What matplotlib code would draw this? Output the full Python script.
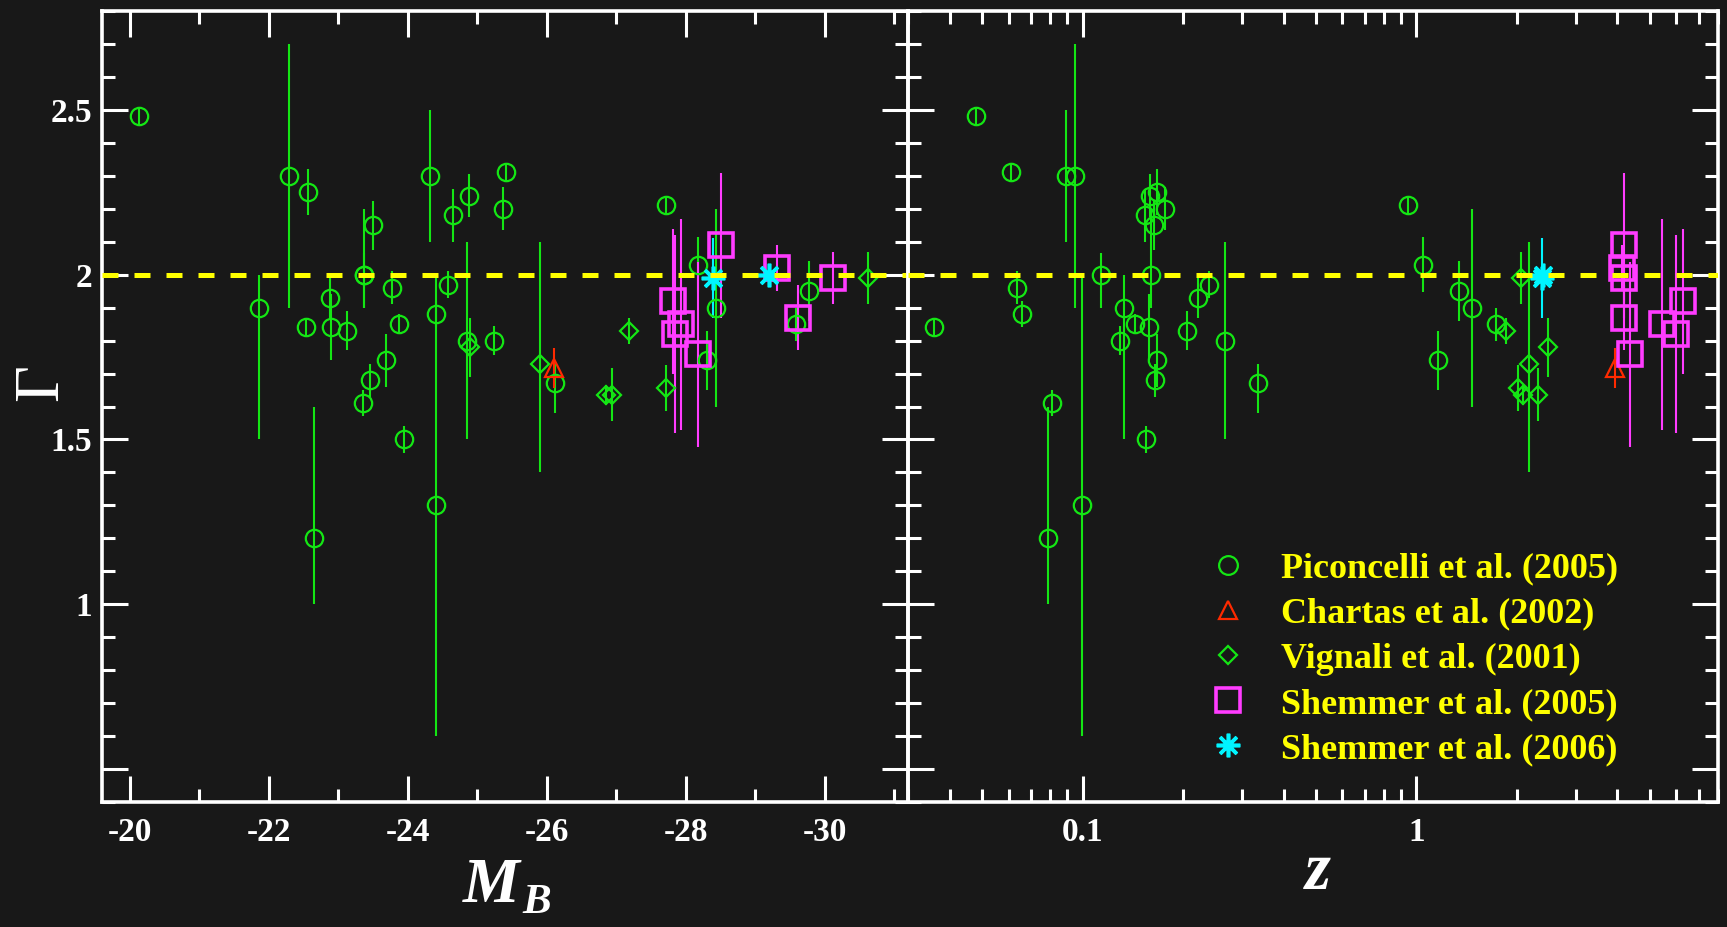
import matplotlib
matplotlib.use('Agg')
import matplotlib.pyplot as plt
from matplotlib.lines import Line2D
from matplotlib.ticker import FixedLocator, MultipleLocator, LogLocator, NullFormatter

plt.rcParams['font.family'] = ['Liberation Serif', 'DejaVu Serif']
plt.rcParams['font.weight'] = 'bold'
plt.rcParams['mathtext.fontset'] = 'custom'
plt.rcParams['mathtext.it'] = 'Liberation Serif:italic:bold'
plt.rcParams['mathtext.rm'] = 'Liberation Serif:bold'

# Piconcelli et al. (2005)
pic_mb = [-20.13, -22.29, -22.57, -21.86, -22.54, -22.88, -22.89, -23.12, -23.37, -23.37,
          -23.50, -23.78, -23.88, -23.69, -23.46, -23.35, -23.94, -22.65, -24.32, -24.65,
          -24.88, -25.42, -25.37, -24.58, -24.40, -24.41, -24.85, -25.24, -26.12, -27.72,
          -28.18, -28.43, -28.30, -29.78, -29.59]
pic_z = [0.0478, 0.0949, 0.167, 0.133, 0.036, 0.221, 0.158, 0.206, 0.1136, 0.1606,
         0.164, 0.0638, 0.1437, 0.167, 0.165, 0.081, 0.155, 0.079, 0.0895, 0.154,
         0.1596, 0.0609, 0.177, 0.239, 0.066, 0.0998, 0.267, 0.129, 0.3345, 0.943,
         1.047, 1.47, 1.16, 1.34, 1.728]
pic_gam = [2.48, 2.30, 2.25, 1.90, 1.84, 1.93, 1.84, 1.83, 2.00, 2.00,
           2.15, 1.96, 1.85, 1.74, 1.68, 1.61, 1.50, 1.20, 2.30, 2.18,
           2.24, 2.31, 2.20, 1.97, 1.88, 1.30, 1.80, 1.80, 1.67, 2.21,
           2.03, 1.90, 1.74, 1.95, 1.85]
pic_elo = [0.03, 0.40, 0.07, 0.40, 0.03, 0.06, 0.10, 0.06, 0.10, 0.10,
           0.075, 0.05, 0.03, 0.08, 0.05, 0.04, 0.04, 0.20, 0.20, 0.08,
           0.065, 0.03, 0.065, 0.04, 0.04, 0.70, 0.30, 0.045, 0.09, 0.03,
           0.083, 0.30, 0.09, 0.09, 0.05]
pic_ehi = [0.03, 0.40, 0.07, 0.10, 0.03, 0.06, 0.10, 0.06, 0.066, 0.20,
           0.075, 0.05, 0.03, 0.08, 0.05, 0.04, 0.04, 0.40, 0.20, 0.08,
           0.065, 0.03, 0.065, 0.04, 0.04, 0.70, 0.30, 0.045, 0.06, 0.03,
           0.083, 0.30, 0.09, 0.09, 0.05]

# Chartas et al. (2002)
cha_mb = [-26.10]
cha_z = [3.93]
cha_gam = [1.717]
cha_err = [0.06]

# Vignali et al. (2001)
vig_mb = [-24.90, -25.91, -26.86, -26.94, -27.72, -27.18, -30.63]
vig_z = [2.47, 2.18, 2.08, 2.31, 2.01, 1.857, 2.05]
vig_gam = [1.78, 1.73, 1.636, 1.636, 1.657, 1.83, 1.99]
vig_elo = [0.09, 0.33, 0.03, 0.08, 0.07, 0.04, 0.08]
vig_ehi = [0.09, 0.37, 0.03, 0.08, 0.07, 0.04, 0.08]

# Shemmer et al. (2005)
s05_mb = [-28.51, -29.32, -30.12, -29.61, -27.82, -27.94, -27.85, -28.18]
s05_z = [4.19, 4.12, 4.19, 4.19, 6.3, 5.43, 6.0, 4.35]
s05_gam = [2.089, 2.02, 1.99, 1.87, 1.92, 1.85, 1.82, 1.758]
s05_err = [0.22, 0.07, 0.08, 0.10, 0.22, 0.32, 0.30, 0.28]

# Shemmer et al. (2006)
s06_mb = [-28.40, -29.20]
s06_z = [2.38, 2.40]
s06_gam = [1.99, 2.00]
s06_err = [0.12, 0.03]

labels = ['Piconcelli et al. (2005)', 'Chartas et al. (2002)', 'Vignali et al. (2001)',
          'Shemmer et al. (2005)', 'Shemmer et al. (2006)']

mb_ticks = [-20, -22, -24, -26, -28, -30]
z_ticks = [0.1, 1]
gam_ticks = [0.5, 1, 1.5, 2, 2.5]
gam_ticklabels = ['', '1', '1.5', '2', '2.5']

green = '#14e614'
red = '#ff2a00'
magenta = '#ff3cff'
cyan = '#00f5ff'
yellow = '#ffff00'
bg = '#181818'

star = (8, 2, 0)
styles = [
    dict(marker='o', ms=12.5, mfc='none', mec=green, mew=1.6, ecolor=green),
    dict(marker='^', ms=13, mfc='none', mec=red, mew=1.6, ecolor=red),
    dict(marker='D', ms=9, mfc='none', mec=green, mew=1.6, ecolor=green),
    dict(marker='s', ms=17, mfc='none', mec=magenta, mew=2.6, ecolor=magenta),
    dict(marker=star, ms=17, mfc='none', mec=cyan, mew=2.6, ecolor=cyan),
]

fig = plt.figure(figsize=(17.27, 9.27), dpi=100, facecolor=bg)
ax1 = fig.add_axes([102 / 1727, 1 - 802 / 927, 806 / 1727, 791 / 927])
ax2 = fig.add_axes([908 / 1727, 1 - 802 / 927, 810 / 1727, 791 / 927])


def frame(ax):
    ax.set_facecolor('none')
    for s in ax.spines.values():
        s.set_color('white')
        s.set_linewidth(2.6)
    ax.tick_params(which='both', direction='in', top=True, right=True,
                   color='white', width=2.2, labelcolor='white', labelsize=24)
    ax.tick_params(which='major', length=19, pad=7)
    ax.tick_params(axis='x', which='major', pad=11)
    ax.tick_params(which='minor', length=9.5)
    ax.set_ylim(0.4, 2.8)
    ax.yaxis.set_major_locator(FixedLocator(gam_ticks))
    ax.yaxis.set_minor_locator(MultipleLocator(0.1))
    ax.axhline(2.0, color=yellow, lw=3.6, dashes=(3.2, 3.2), zorder=6)


def draw(ax, xs):
    sets = [(pic_gam, [pic_elo, pic_ehi]),
            (cha_gam, cha_err),
            (vig_gam, [vig_elo, vig_ehi]),
            (s05_gam, s05_err),
            (s06_gam, s06_err)]
    for x, (g, e), st in zip(xs, sets, styles):
        ax.errorbar(x, g, yerr=e, ls='none', elinewidth=1.5, capsize=0, zorder=3, **st)


frame(ax1)
draw(ax1, [pic_mb, cha_mb, vig_mb, s05_mb, s06_mb])
ax1.set_xlim(-19.6, -31.2)
ax1.set_xticks(mb_ticks, labels=[str(t) for t in mb_ticks])
ax1.xaxis.set_minor_locator(MultipleLocator(1))
ax1.set_yticklabels(gam_ticklabels)
ax1.text(-0.074, 0.53, 'Γ', color='white', fontsize=46, fontweight='normal', rotation=90,
         ha='center', va='center', transform=ax1.transAxes)
# M with a dropped subscript B
ax1.text(0.483, -0.071, 'M', color='white', fontsize=46, fontstyle='italic',
         ha='center', va='top', transform=ax1.transAxes)
ax1.text(0.522, -0.104, 'B', color='white', fontsize=31, fontstyle='italic',
         ha='left', va='top', transform=ax1.transAxes)

frame(ax2)
draw(ax2, [pic_z, cha_z, vig_z, s05_z, s06_z])
ax2.set_xscale('log')
ax2.set_xlim(0.03, 8)
ax2.set_xticks(z_ticks, labels=['0.1', '1'])
ax2.xaxis.set_minor_locator(LogLocator(base=10, subs=range(2, 10)))
ax2.xaxis.set_minor_formatter(NullFormatter())
ax2.tick_params(labelleft=False)
ax2.set_xlabel(r'$z$', color='white', fontsize=48)
ax2.xaxis.set_label_coords(0.506, -0.050)

handles = [Line2D([], [], ls='none', **{k: v for k, v in st.items() if k != 'ecolor'})
           for st in styles]
handles[0].set_markersize(13.5)
handles[2].set_markersize(9.5)
leg = ax2.legend(handles, labels, loc='upper left', bbox_to_anchor=(1210 / 1727, 1 - 552 / 927),
                 bbox_transform=fig.transFigure, frameon=False, prop={'size': 26, 'weight': 'bold'},
                 labelcolor=yellow, handlelength=1.0, handletextpad=0.97, labelspacing=0.33,
                 borderpad=0, borderaxespad=0)

fig.savefig('out.png', dpi=100, facecolor=bg)
